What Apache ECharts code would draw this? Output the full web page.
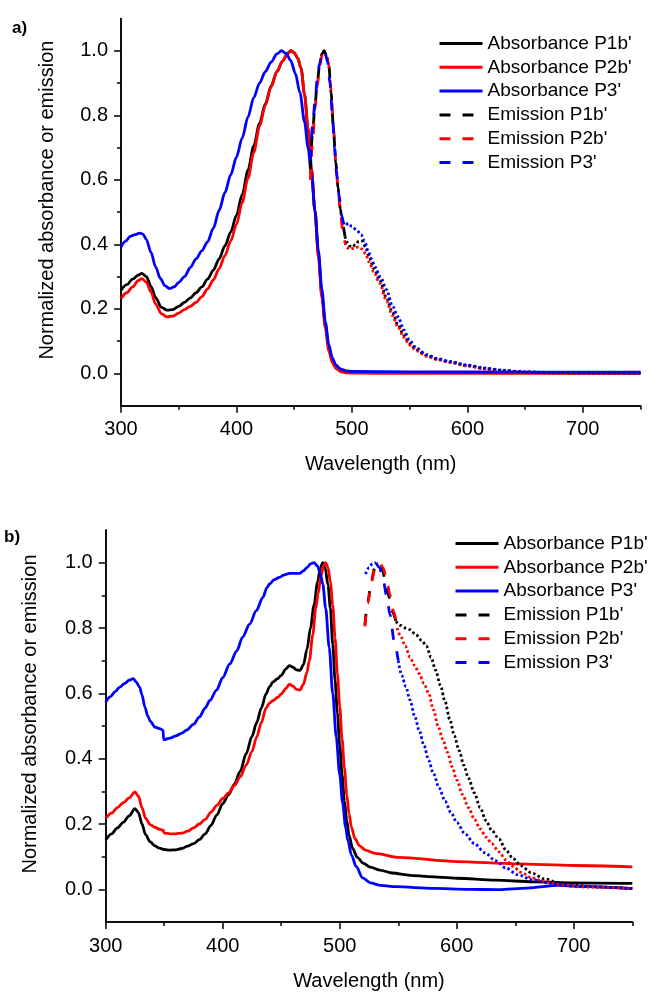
<!DOCTYPE html>
<html>
<head>
<meta charset="utf-8">
<script src="https://cdn.jsdelivr.net/npm/echarts@6/dist/echarts.min.js"></script>
<style>
  html, body { margin: 0; padding: 0; background: #fff; }
  #chart { width: 648px; height: 992px; }
</style>
</head>
<body>
<div id="chart"></div>
<script>
// tick values
const xMajor = [300, 400, 500, 600, 700];
const xMinor = [350, 450, 550, 650, 750];
const yMajor = [0, 0.2, 0.4, 0.6, 0.8, 1.0];
const yMinor = [0.1, 0.3, 0.5, 0.7, 0.9];

// panel a) absorbance, [wavelength, normalized value]
const absA_P1b = [[300,0.258],[305,0.275],[310,0.292],[315,0.305],[318,0.31],[322,0.3],[326,0.27],[330,0.235],[335,0.205],[340,0.196],[345,0.198],[350,0.208],[355,0.22],[360,0.234],[365,0.25],[370,0.268],[375,0.292],[380,0.32],[385,0.355],[390,0.395],[395,0.438],[400,0.49],[405,0.555],[410,0.63],[415,0.705],[420,0.775],[425,0.835],[430,0.89],[435,0.935],[440,0.968],[444,0.99],[447,1.0],[450,0.994],[453,0.978],[456,0.945],[459,0.865],[462,0.76],[465,0.635],[468,0.505],[471,0.37],[474,0.245],[477,0.15],[480,0.08],[483,0.04],[486,0.022],[490,0.011],[495,0.006],[500,0.004],[550,0.003],[650,0.002],[750,0.002]];
const absA_P2b = [[300,0.232],[305,0.25],[310,0.268],[315,0.288],[318,0.294],[322,0.283],[326,0.252],[330,0.215],[335,0.185],[340,0.175],[345,0.178],[350,0.187],[355,0.198],[360,0.208],[365,0.22],[370,0.238],[375,0.262],[380,0.29],[385,0.325],[390,0.365],[395,0.41],[400,0.462],[405,0.53],[410,0.605],[415,0.685],[420,0.765],[425,0.83],[430,0.888],[435,0.935],[440,0.968],[444,0.99],[447.5,1.0],[450,0.995],[453,0.978],[456,0.945],[459,0.865],[462,0.76],[465,0.635],[468,0.5],[471,0.36],[474,0.235],[477,0.14],[480,0.07],[483,0.033],[486,0.016],[490,0.006],[495,0.002],[500,0.001],[550,0.0],[650,0.0],[750,0.0]];
const absA_P3 = [[300,0.392],[304,0.41],[308,0.425],[312,0.43],[316,0.435],[319,0.432],[322,0.415],[326,0.375],[330,0.33],[334,0.295],[338,0.272],[342,0.263],[346,0.268],[350,0.282],[355,0.3],[360,0.328],[365,0.355],[370,0.38],[375,0.408],[380,0.45],[385,0.505],[390,0.56],[395,0.615],[400,0.67],[405,0.73],[410,0.795],[415,0.855],[420,0.9],[425,0.935],[430,0.965],[435,0.99],[439,1.0],[443,0.992],[447,0.97],[451,0.93],[455,0.87],[459,0.78],[462,0.7],[465,0.615],[468,0.505],[471,0.38],[474,0.26],[477,0.16],[480,0.09],[483,0.048],[486,0.027],[490,0.014],[495,0.008],[500,0.006],[550,0.005],[650,0.004],[750,0.004]];

// panel a) emission: dashed near the peak, dotted tail
const emA_P1b = [[464,0.63],[466,0.75],[468,0.83],[470,0.9],[472,0.955],[474,0.99],[476,1.0],[478,0.985],[480,0.955],[482,0.87],[484,0.76],[486,0.655],[488,0.575],[490,0.51],[492,0.46],[494,0.425]];
const emA_P1bTail = [[494,0.425],[496,0.405],[498,0.395],[500,0.392],[503,0.398],[506,0.41],[509,0.41],[512,0.39],[515,0.36],[519,0.325],[524,0.29],[530,0.235],[535,0.19],[540,0.15],[545,0.118],[550,0.093],[556,0.073],[565,0.055],[575,0.043],[585,0.035],[600,0.024],[615,0.015],[630,0.009],[650,0.004],[670,0.002],[700,0.001],[750,0.0]];
const emA_P2b = [[464,0.6],[466,0.72],[468,0.82],[470,0.89],[472,0.95],[474,0.985],[476.5,1.0],[478,0.99],[480,0.955],[482,0.875],[484,0.765],[486,0.66],[488,0.575],[490,0.5],[492,0.445],[494,0.405]];
const emA_P2bTail = [[494,0.405],[496,0.39],[498,0.385],[500,0.387],[503,0.39],[506,0.392],[509,0.385],[512,0.37],[515,0.345],[519,0.315],[524,0.28],[530,0.225],[535,0.18],[540,0.143],[545,0.112],[550,0.088],[556,0.07],[565,0.053],[575,0.042],[585,0.034],[600,0.023],[615,0.014],[630,0.008],[650,0.004],[670,0.002],[700,0.001],[750,0.0]];
const emA_P3 = [[464,0.66],[466,0.77],[468,0.84],[470,0.91],[472,0.96],[474,0.99],[475.5,1.0],[477,0.99],[479,0.965],[481,0.9],[483,0.81],[485,0.7],[487,0.61],[489,0.55],[491,0.49],[493,0.465],[495,0.46]];
const emA_P3Tail = [[495,0.46],[497,0.465],[500,0.455],[504,0.445],[508,0.43],[511,0.41],[514,0.38],[517,0.355],[520,0.33],[525,0.297],[530,0.26],[535,0.21],[540,0.175],[545,0.135],[550,0.102],[556,0.078],[565,0.058],[575,0.045],[585,0.037],[600,0.026],[615,0.017],[630,0.01],[650,0.005],[670,0.003],[700,0.002],[750,0.001]];

// panel b) absorbance
const absB_P1b = [[300,0.151],[305,0.17],[310,0.188],[315,0.205],[320,0.225],[325,0.247],[328,0.235],[331,0.2],[334,0.168],[338,0.145],[342,0.133],[346,0.126],[350,0.122],[355,0.12],[360,0.121],[365,0.125],[370,0.132],[375,0.14],[380,0.152],[385,0.17],[390,0.196],[395,0.228],[400,0.262],[405,0.29],[410,0.322],[415,0.362],[420,0.415],[425,0.468],[429,0.51],[433,0.555],[437,0.598],[440,0.62],[443,0.635],[447,0.645],[450,0.655],[454,0.675],[457,0.685],[460,0.68],[463,0.672],[466,0.67],[469,0.688],[472,0.735],[475,0.8],[478,0.87],[481,0.94],[483.5,0.985],[485.5,1.0],[487.5,0.985],[490,0.93],[492,0.86],[494,0.75],[496,0.64],[498,0.54],[500,0.44],[502,0.35],[504,0.27],[506,0.21],[508,0.165],[511,0.125],[515,0.098],[520,0.08],[526,0.068],[534,0.059],[545,0.05],[560,0.043],[576,0.039],[600,0.034],[633,0.028],[665,0.023],[700,0.02],[750,0.018]];
const absB_P2b = [[300,0.217],[305,0.233],[310,0.25],[315,0.265],[320,0.28],[325,0.298],[328,0.285],[331,0.25],[334,0.218],[338,0.198],[342,0.19],[346,0.184],[349,0.181],[350,0.172],[355,0.17],[360,0.17],[365,0.172],[370,0.178],[375,0.188],[380,0.2],[385,0.214],[390,0.236],[395,0.257],[400,0.278],[405,0.295],[410,0.318],[415,0.345],[420,0.38],[425,0.422],[429,0.466],[433,0.51],[437,0.555],[440,0.57],[443,0.578],[447,0.588],[450,0.598],[454,0.615],[457,0.628],[460,0.622],[463,0.612],[466,0.61],[469,0.628],[472,0.665],[474,0.7],[477,0.78],[479.5,0.86],[481.5,0.905],[484,0.96],[486,0.99],[488,1.0],[490,0.985],[492,0.94],[494,0.87],[496,0.77],[498,0.66],[500,0.56],[502,0.46],[504,0.37],[506,0.29],[508,0.23],[510,0.19],[513,0.155],[517,0.133],[522,0.12],[530,0.11],[550,0.098],[600,0.085],[650,0.078],[700,0.073],[750,0.069]];
const absB_P3 = [[300,0.573],[304,0.59],[308,0.605],[312,0.619],[316,0.63],[320,0.64],[323.5,0.645],[326,0.635],[329,0.619],[331,0.595],[333.5,0.558],[336,0.53],[338,0.515],[342,0.497],[346,0.492],[349,0.487],[349.5,0.458],[355,0.463],[360,0.47],[365,0.478],[369,0.487],[375,0.505],[380,0.527],[385,0.555],[389,0.578],[394.6,0.609],[400,0.648],[406,0.69],[412,0.73],[417,0.772],[423,0.812],[428.7,0.853],[434.3,0.894],[438,0.925],[440,0.935],[444,0.948],[448.5,0.955],[452,0.962],[457,0.967],[461,0.967],[465.6,0.967],[469,0.975],[472,0.985],[475,0.996],[478,1.0],[481,0.99],[483.5,0.965],[485.5,0.935],[488,0.86],[491,0.74],[494,0.6],[497,0.466],[500,0.35],[502.5,0.263],[505,0.19],[507,0.148],[510,0.105],[514,0.07],[519.6,0.035],[526,0.02],[535,0.012],[548,0.008],[580,0.003],[610,0.0],[636,-0.001],[660,0.004],[687,0.012],[710,0.008],[750,0.002]];

// panel b) emission
const emB_P1b = [[521.5,0.81],[524,0.88],[527,0.945],[530,0.985],[533.5,1.0],[536,0.985],[539,0.945],[542,0.895],[545,0.85],[548,0.82]];
const emB_P1bTail = [[548,0.82],[552,0.808],[556,0.8],[560,0.795],[565,0.78],[570,0.762],[574,0.745],[578,0.71],[582,0.67],[586,0.625],[590,0.575],[594,0.52],[598,0.47],[602,0.425],[606,0.38],[610,0.34],[615,0.295],[620,0.25],[625,0.21],[630,0.18],[636,0.155],[642,0.12],[648,0.095],[655,0.072],[664,0.05],[675,0.032],[687,0.02],[700,0.013],[720,0.007],[750,0.003]];
const emB_P2b = [[521.5,0.805],[524,0.875],[527,0.94],[530,0.98],[534,1.0],[537,0.985],[540,0.95],[543,0.9],[546,0.85],[549,0.8]];
const emB_P2bTail = [[549,0.8],[552,0.775],[556,0.745],[560,0.71],[564,0.685],[568,0.66],[572,0.63],[576,0.6],[580,0.55],[584,0.5],[588,0.46],[592,0.42],[596,0.375],[600,0.335],[605,0.29],[610,0.25],[615,0.215],[620,0.185],[625,0.16],[630,0.14],[636,0.115],[642,0.09],[648,0.07],[655,0.052],[664,0.035],[675,0.024],[690,0.014],[710,0.007],[750,0.002]];
const emB_P3Head = [[522,0.965],[525,0.985],[528,0.997],[531,1.0]];
const emB_P3 = [[531,1.0],[534,0.985],[537,0.95],[540,0.9],[543,0.84],[546.5,0.76],[550,0.7]];
const emB_P3Tail = [[550,0.7],[553,0.655],[556.5,0.62],[560,0.58],[564,0.53],[568,0.485],[572,0.44],[576,0.395],[580,0.355],[585,0.31],[590,0.27],[595,0.235],[600,0.205],[607,0.17],[615,0.14],[624,0.112],[633,0.088],[642,0.065],[652,0.045],[664,0.03],[680,0.018],[700,0.01],[750,0.002]];

const legendNames = ["Absorbance P1b'", "Absorbance P2b'", "Absorbance P3'", "Emission P1b'", "Emission P2b'", "Emission P3'"];

const FONT = '"Liberation Sans", Arial, sans-serif';
const BLACK = '#000000', RED = '#ff0000', BLUE = '#0000ff';
const DASH = [11, 12];
const DOT = [2.5, 2.5];
const LW = 2.8;

function makeAxes(gridIndex, nameGapY) {
    const common = {
        gridIndex: gridIndex,
        type: 'value',
        splitLine: { show: false },
        axisLine: { onZero: false, lineStyle: { color: '#000', width: 1.5 } }
    };
    const x = Object.assign({}, common, {
        position: 'bottom',
        min: 300, max: 750,
        axisTick: { customValues: xMajor, length: 7, lineStyle: { color: '#000', width: 1.5 } },
        axisLabel: { customValues: xMajor, margin: 14, color: '#000', fontSize: 20, fontFamily: FONT },
        name: 'Wavelength (nm)', nameLocation: 'middle', nameGap: 49,
        nameTextStyle: { color: '#000', fontSize: 20, fontFamily: FONT }
    });
    const xm = Object.assign({}, common, {
        position: 'bottom',
        min: 300, max: 750,
        axisTick: { customValues: xMinor, length: 4, lineStyle: { color: '#000', width: 1.5 } },
        axisLabel: { show: false }
    });
    const y = Object.assign({}, common, {
        position: 'left',
        min: -0.1, max: 1.1,
        axisTick: { customValues: yMajor, length: 7, lineStyle: { color: '#000', width: 1.5 } },
        axisLabel: { customValues: yMajor, margin: 13, color: '#000', fontSize: 20, fontFamily: FONT,
            formatter: v => v.toFixed(1) },
        name: 'Normalized absorbance or emission', nameLocation: 'middle', nameGap: nameGapY,
        nameTextStyle: { color: '#000', fontSize: 20, fontFamily: FONT, padding: [0, 0, 0, 24] }
    });
    const ym = Object.assign({}, common, {
        position: 'left',
        min: -0.1, max: 1.1,
        axisTick: { customValues: yMinor, length: 4, lineStyle: { color: '#000', width: 1.5 } },
        axisLabel: { show: false }
    });
    return { x: [x, xm], y: [y, ym] };
}

function line(name, data, color, type, axisIndex) {
    return {
        name: name, type: 'line', data: data,
        xAxisIndex: axisIndex, yAxisIndex: axisIndex,
        showSymbol: false, symbol: 'none',
        smooth: 0.3, smoothMonotone: 'x',
        lineStyle: { color: color, width: LW, type: type },
        itemStyle: { color: color },
        emphasis: { disabled: true }
    };
}

function legend(left, top) {
    return {
        data: legendNames, orient: 'vertical', left: left, top: top,
        padding: 0, itemWidth: 43, itemHeight: 14, itemGap: 4.8,
        itemStyle: { opacity: 0 },
        lineStyle: { width: 3 },
        textStyle: { color: '#000', fontSize: 19, fontFamily: FONT }
    };
}

const axesA = makeAxes(0, 64);
const axesB = makeAxes(1, 65);

const option = {
    animation: false,
    backgroundColor: '#fff',
    grid: [
        { left: 121, top: 18.5, width: 519.5, height: 387.2 },
        { left: 105.7, top: 530, width: 526.6, height: 392.7 }
    ],
    xAxis: [].concat(axesA.x, axesB.x),
    yAxis: [].concat(axesA.y, axesB.y),
    legend: [legend(438, 34), legend(454, 534)],
    graphic: [
        { type: 'text', left: 12, top: 20, style: { text: 'a)', font: 'bold 17px ' + FONT, fill: '#000' } },
        { type: 'text', left: 4, top: 529, style: { text: 'b)', font: 'bold 17px ' + FONT, fill: '#000' } }
    ],
    series: [
        line(legendNames[0], absA_P1b, BLACK, 'solid', 0),
        line(legendNames[1], absA_P2b, RED, 'solid', 0),
        line(legendNames[2], absA_P3, BLUE, 'solid', 0),
        line(legendNames[3], emA_P1b, BLACK, DASH, 0),
        line(legendNames[4], emA_P2b, RED, DASH, 0),
        line(legendNames[5], emA_P3, BLUE, DASH, 0),
        line('a tail P1b', emA_P1bTail, BLACK, DOT, 0),
        line('a tail P2b', emA_P2bTail, RED, DOT, 0),
        line('a tail P3', emA_P3Tail, BLUE, DOT, 0),

        line(legendNames[0], absB_P1b, BLACK, 'solid', 2),
        line(legendNames[1], absB_P2b, RED, 'solid', 2),
        line(legendNames[2], absB_P3, BLUE, 'solid', 2),
        line(legendNames[3], emB_P1b, BLACK, DASH, 2),
        line(legendNames[4], emB_P2b, RED, DASH, 2),
        line(legendNames[5], emB_P3, BLUE, DASH, 2),
        line('b head P3', emB_P3Head, BLUE, DOT, 2),
        line('b tail P1b', emB_P1bTail, BLACK, DOT, 2),
        line('b tail P2b', emB_P2bTail, RED, DOT, 2),
        line('b tail P3', emB_P3Tail, BLUE, DOT, 2)
    ]
};

const myChart = echarts.init(document.getElementById('chart'));
myChart.setOption(option);
</script>
</body>
</html>
